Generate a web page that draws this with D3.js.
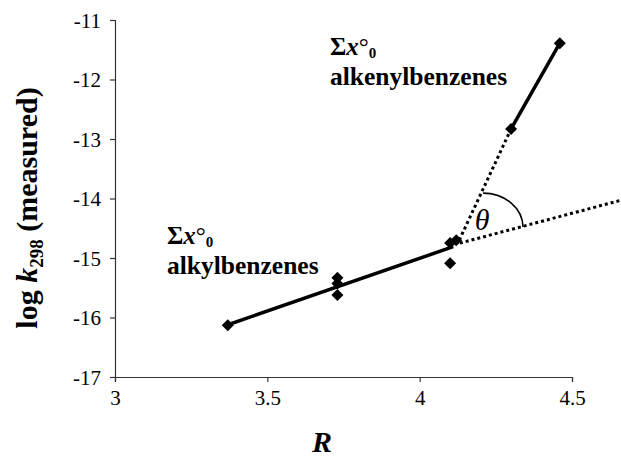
<!DOCTYPE html>
<html>
<head>
<meta charset="utf-8">
<script src="https://cdn.jsdelivr.net/npm/d3@7"></script>
<style>
  html, body { margin: 0; padding: 0; background: #fff; }
</style>
</head>
<body>
<svg id="chart" width="621" height="459"></svg>
<script>
// Measured rate constants vs. R
const alkylR    = [3.37, 3.73, 3.73, 3.73, 4.10, 4.10, 4.12];
const alkylLogK = [-16.13, -15.33, -15.43, -15.62, -15.09, -14.75, -14.70];
const alkenylR    = [4.30, 4.46];
const alkenylLogK = [-12.83, -11.39];

// Fitted segments (solid) and their extrapolations (dotted)
const alkylFitR    = [3.366, 4.11];
const alkylFitLogK = [-16.13, -14.81];
const alkenylFitR    = [4.30, 4.46];
const alkenylFitLogK = [-12.83, -11.39];
const alkylExtR    = [4.132, 4.66];
const alkylExtLogK = [-14.75, -14.03];
const alkenylExtR    = [4.13, 4.30];
const alkenylExtLogK = [-14.70, -12.83];

// Angle marker between the two extrapolated lines
const arcCenter = [4.208, -14.48];
const arcTopLogK = -13.91;
const arcRightR = 4.339;
const thetaPos = [4.205, -14.53];

const xTicks = [3, 3.5, 4, 4.5];
const yTicks = [-17, -16, -15, -14, -13, -12, -11];

const SERIF = "'Liberation Serif', 'Times New Roman', Times, serif";

const svg = d3.select("#chart");
const x = d3.scaleLinear().domain([3, 4.5]).range([115, 572]);
const y = d3.scaleLinear().domain([-17, -11]).range([377, 20]);

// Axes
const xAxis = d3.axisBottom(x).tickValues(xTicks).tickSize(5).tickPadding(8)
  .tickFormat(d3.format("~g"));
const yAxis = d3.axisLeft(y).tickValues(yTicks).tickSize(5).tickPadding(9)
  .tickFormat(d => String(d).replace("−", "-"));

const gx = svg.append("g").attr("transform", `translate(0,${y(-17)})`).call(xAxis);
const gy = svg.append("g").attr("transform", `translate(${x(3)},0)`).call(yAxis);
[gx, gy].forEach(g => {
  g.attr("font-family", null).attr("font-size", null);
  g.select(".domain").attr("stroke", "#333").attr("stroke-width", 1.2);
  g.selectAll(".tick line").attr("stroke", "#333").attr("stroke-width", 1.2);
  g.selectAll(".tick text").style("font-family", SERIF)
    .style("font-size", "21px").attr("fill", "#000");
});
gy.selectAll(".tick text").attr("dy", "0.34em");

const line = d3.line().x(d => x(d[0])).y(d => y(d[1]));
const pts = (a, b) => a.map((v, i) => [v, b[i]]);

// Dotted extrapolations
svg.append("path").datum(pts(alkylExtR, alkylExtLogK)).attr("d", line)
  .attr("fill", "none").attr("stroke", "#000").attr("stroke-width", 3).attr("stroke-dasharray", "3,3");
svg.append("path").datum(pts(alkenylExtR, alkenylExtLogK)).attr("d", line)
  .attr("fill", "none").attr("stroke", "#000").attr("stroke-width", 3).attr("stroke-dasharray", "3,3");

// Solid fits
svg.append("path").datum(pts(alkylFitR, alkylFitLogK)).attr("d", line)
  .attr("fill", "none").attr("stroke", "#000").attr("stroke-width", 3.5);
svg.append("path").datum(pts(alkenylFitR, alkenylFitLogK)).attr("d", line)
  .attr("fill", "none").attr("stroke", "#000").attr("stroke-width", 3.5);

// Angle arc (quarter ellipse)
const cx = x(arcCenter[0]), cy = y(arcCenter[1]);
const ry = cy - y(arcTopLogK), rx = x(arcRightR) - cx;
svg.append("path")
  .attr("d", `M${cx},${cy - ry} A${rx},${ry} 0 0 1 ${cx + rx},${cy}`)
  .attr("fill", "none").attr("stroke", "#000").attr("stroke-width", 1.6);
svg.append("text").attr("x", x(thetaPos[0])).attr("y", y(thetaPos[1]))
  .attr("text-anchor", "middle").style("font-family", SERIF)
  .style("font-style", "italic").style("font-size", "30px")
  .text("θ");

// Markers
const diamond = d3.symbol().type(d3.symbolSquare).size(72);
const markers = pts(alkylR, alkylLogK).concat(pts(alkenylR, alkenylLogK));
svg.append("g").selectAll("path").data(markers).join("path")
  .attr("d", diamond)
  .attr("transform", d => `translate(${x(d[0])},${y(d[1])}) rotate(45)`)
  .attr("fill", "#000");

// Series labels
function seriesLabel(px, py, name) {
  const t = svg.append("text").attr("x", px).attr("y", py)
    .style("font-family", SERIF).style("font-size", "25px").style("font-weight", "bold");
  t.append("tspan").text("Σ");
  t.append("tspan").style("font-style", "italic").text("x");
  t.append("tspan").style("font-weight", "normal").text("°");
  t.append("tspan").style("font-size", "15px").attr("dy", 3).text("0");
  svg.append("text").attr("x", px).attr("y", py + 30)
    .style("font-family", SERIF).style("font-size", "25.5px").style("font-weight", "bold")
    .text(name);
}
seriesLabel(167, 244, "alkylbenzenes");
seriesLabel(330, 55, "alkenylbenzenes");

// Axis titles
const yt = svg.append("text")
  .attr("transform", "translate(37,208) rotate(-90)")
  .attr("text-anchor", "middle")
  .style("font-family", SERIF).style("font-size", "30px").style("font-weight", "bold");
yt.append("tspan").text("log ");
yt.append("tspan").style("font-style", "italic").text("k");
yt.append("tspan").style("font-size", "19px").attr("dy", 6).text("298");
yt.append("tspan").attr("dy", -6).text(" (measured)");

svg.append("text").attr("x", 322).attr("y", 452).attr("text-anchor", "middle")
  .style("font-family", SERIF).style("font-size", "30px")
  .style("font-weight", "bold").style("font-style", "italic").text("R");
</script>
</body>
</html>
